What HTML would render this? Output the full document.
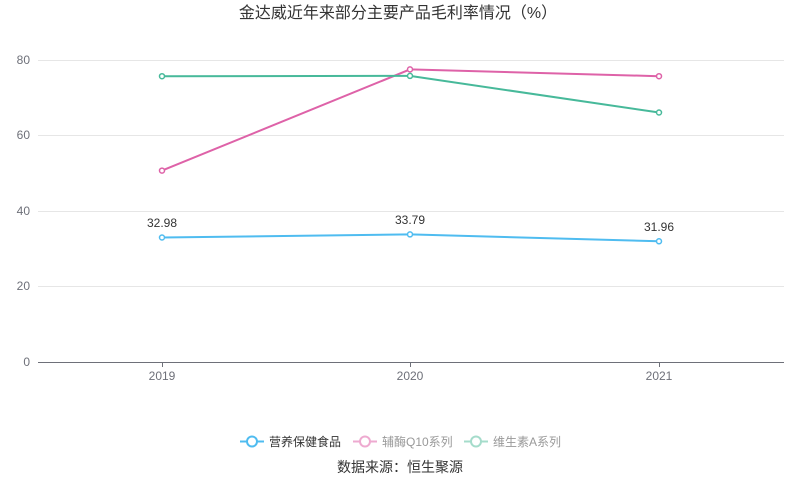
<!DOCTYPE html><html><head><meta charset="utf-8"><style>body{margin:0;background:#fff}svg{display:block;font-family:"Liberation Sans","Noto Sans CJK SC",sans-serif}</style></head><body>
<svg width="800" height="501" viewBox="0 0 800 501">
<text x="398" y="18" font-size="16" fill="#333" text-anchor="middle">金达威近年来部分主要产品毛利率情况（%）</text>
<g stroke="#e6e6e6" stroke-width="1">
<line x1="38" y1="60.5" x2="784" y2="60.5"/><line x1="38" y1="135.5" x2="784" y2="135.5"/><line x1="38" y1="211.5" x2="784" y2="211.5"/><line x1="38" y1="286.5" x2="784" y2="286.5"/></g>
<line x1="38" y1="362.5" x2="784" y2="362.5" stroke="#6e7079"/>
<g stroke="#6e7079"><line x1="162.5" y1="362" x2="162.5" y2="367"/><line x1="410.5" y1="362" x2="410.5" y2="367"/><line x1="659.5" y1="362" x2="659.5" y2="367"/></g>
<g font-size="12" fill="#6e7079" text-anchor="end"><text x="30" y="64">80</text><text x="30" y="139">60</text><text x="30" y="215">40</text><text x="30" y="290">20</text><text x="30" y="366">0</text></g>
<g font-size="12" fill="#6e7079" text-anchor="middle"><text x="162" y="380">2019</text><text x="410" y="380">2020</text><text x="659" y="380">2021</text></g>
<g fill="none" stroke-width="2">
<polyline points="162,237.5 410,234.4 659,241.3" stroke="#4fbcf0"/>
<polyline points="162,170.6 410,69.4 659,76.2" stroke="#de62a8"/>
<polyline points="162,76.2 410,75.9 659,112.5" stroke="#47b99a"/></g>
<g fill="#fff" stroke-width="1.5">
<g stroke="#4fbcf0"><circle cx="162" cy="237.5" r="2.5"/><circle cx="410" cy="234.4" r="2.5"/><circle cx="659" cy="241.3" r="2.5"/></g>
<g stroke="#de62a8"><circle cx="162" cy="170.6" r="2.5"/><circle cx="410" cy="69.4" r="2.5"/><circle cx="659" cy="76.2" r="2.5"/></g>
<g stroke="#47b99a"><circle cx="162" cy="76.2" r="2.5"/><circle cx="410" cy="75.9" r="2.5"/><circle cx="659" cy="112.5" r="2.5"/></g></g>
<g font-size="12" fill="#333" text-anchor="middle"><text x="162" y="227">32.98</text><text x="410" y="224">33.79</text><text x="659" y="231">31.96</text></g>
<g stroke-width="2" fill="#fff">
<line x1="240" y1="441.5" x2="264" y2="441.5" stroke="#4fbcf0"/><circle cx="252" cy="441.5" r="5" stroke="#4fbcf0"/>
<line x1="353" y1="441.5" x2="377" y2="441.5" stroke="#eeaad0"/><circle cx="365" cy="441.5" r="5" stroke="#eeaad0"/>
<line x1="464" y1="441.5" x2="488" y2="441.5" stroke="#a5dccb"/><circle cx="476" cy="441.5" r="5" stroke="#a5dccb"/></g>
<g font-size="12"><text x="269" y="446" fill="#333">营养保健食品</text><text x="382" y="446" fill="#999">辅酶Q10系列</text><text x="493" y="446" fill="#999">维生素A系列</text></g>
<text x="400" y="472" font-size="14" fill="#333" text-anchor="middle">数据来源：恒生聚源</text>
</svg></body></html>
